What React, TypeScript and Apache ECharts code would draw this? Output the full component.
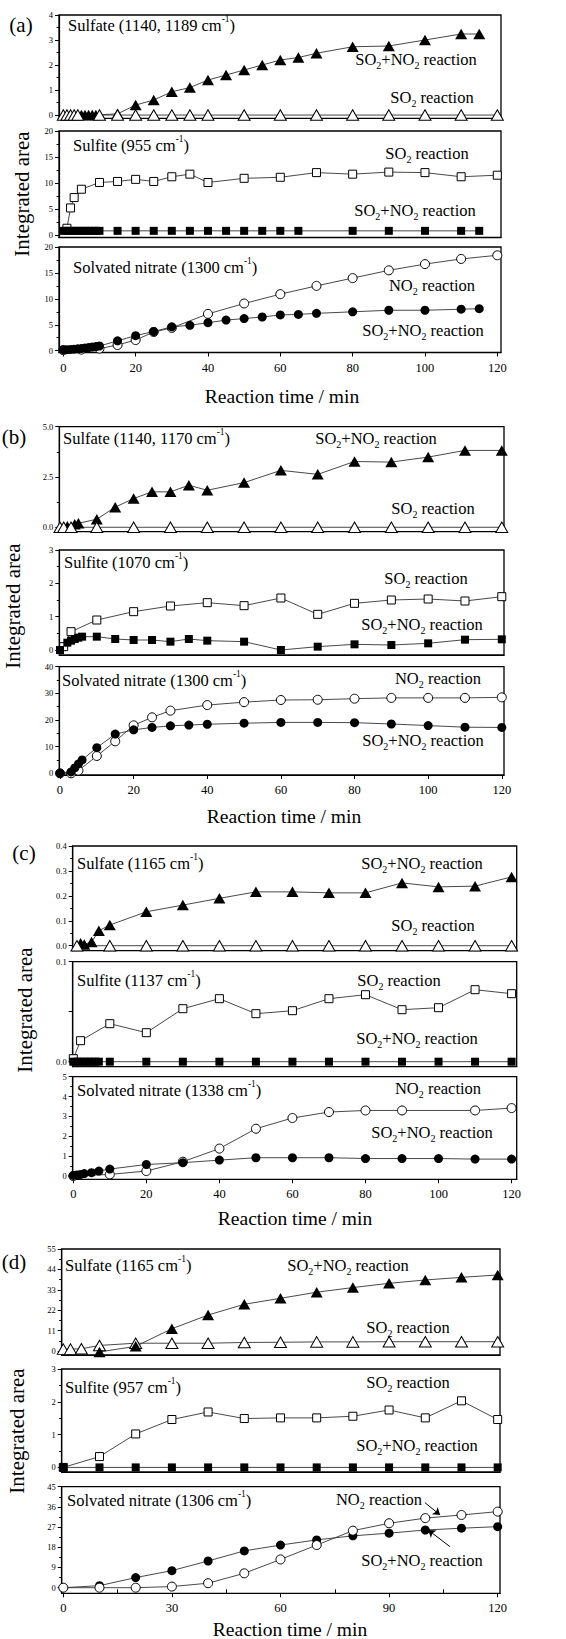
import { useEffect, useRef } from 'react';
import * as echarts from 'echarts';

const FONT = "'Liberation Serif', 'Times New Roman', serif";

// ---------- Panel (a) ----------
const aSulfateSO2T = [0, 1, 2, 3, 4, 10, 15, 20, 25, 30, 35, 40, 50, 60, 70, 80, 90, 100, 110, 120];
const aSulfateSO2V = [0, 0, 0, 0, 0, 0, 0, 0, 0, 0, 0, 0, 0, 0, 0, 0, 0, 0, 0, 0];
const aSulfateMixT = [5, 6, 7, 8, 9, 15, 20, 25, 30, 35, 40, 45, 50, 55, 60, 65, 70, 80, 90, 100, 110, 115];
const aSulfateMixV = [0, 0, 0, 0, 0, 0.05, 0.4, 0.6, 0.93, 1.1, 1.4, 1.6, 1.8, 2.0, 2.2, 2.3, 2.47, 2.73, 2.76, 3.0, 3.24, 3.24];

const aSulfiteSO2T = [1, 2, 3, 5, 10, 15, 20, 25, 30, 35, 40, 50, 60, 70, 80, 90, 100, 110, 120];
const aSulfiteSO2V = [1.3, 5.2, 7.2, 8.8, 10.1, 10.3, 10.7, 10.3, 11.2, 11.7, 10.1, 10.9, 11.1, 12.0, 11.7, 12.1, 12.0, 11.2, 11.5];
const aSulfiteMixT = [0, 1, 2, 3, 4, 5, 6, 7, 8, 9, 10, 15, 20, 25, 30, 35, 40, 45, 50, 55, 60, 65, 80, 90, 100, 110, 115];
const aSulfiteMixV = [0.8, 0.8, 0.8, 0.8, 0.8, 0.8, 0.8, 0.8, 0.8, 0.8, 0.8, 0.8, 0.8, 0.8, 0.8, 0.8, 0.8, 0.8, 0.8, 0.8, 0.8, 0.8, 0.8, 0.8, 0.8, 0.8, 0.8];

const aNitrateNO2T = [0, 5, 10, 15, 20, 25, 30, 40, 50, 60, 70, 80, 90, 100, 110, 120];
const aNitrateNO2V = [0.1, 0.2, 0.4, 1.1, 2.05, 3.6, 4.4, 7.1, 9.1, 10.9, 12.5, 14.0, 15.5, 16.7, 17.7, 18.4];
const aNitrateMixT = [0, 1, 2, 3, 4, 5, 6, 7, 8, 9, 10, 15, 20, 25, 30, 35, 40, 45, 50, 55, 60, 65, 70, 80, 90, 100, 110, 115];
const aNitrateMixV = [0.2, 0.2, 0.25, 0.3, 0.35, 0.4, 0.5, 0.6, 0.7, 0.8, 0.9, 1.9, 2.9, 3.7, 4.6, 4.9, 5.4, 5.9, 6.2, 6.5, 6.9, 7.0, 7.2, 7.5, 7.8, 7.8, 8.0, 8.1];

// ---------- Panel (b) ----------
const bSulfateSO2T = [0, 1, 3, 10, 20, 30, 40, 50, 60, 70, 80, 90, 100, 110, 120];
const bSulfateSO2V = [0, 0, 0, 0, 0, 0, 0, 0, 0, 0, 0, 0, 0, 0, 0];
const bSulfateMixT = [2, 4, 5, 10, 15, 20, 25, 30, 35, 40, 50, 60, 70, 80, 90, 100, 110, 120];
const bSulfateMixV = [0.05, 0.15, 0.2, 0.4, 1.0, 1.43, 1.76, 1.76, 2.09, 1.84, 2.22, 2.83, 2.63, 3.27, 3.24, 3.49, 3.82, 3.82];

const bSulfiteSO2T = [1, 3, 10, 20, 30, 40, 50, 60, 70, 80, 90, 100, 110, 120];
const bSulfiteSO2V = [0.1, 0.55, 0.9, 1.15, 1.32, 1.42, 1.33, 1.56, 1.07, 1.4, 1.5, 1.53, 1.47, 1.6];
const bSulfiteMixT = [0, 2, 3, 4, 5, 6, 10, 15, 20, 25, 30, 35, 40, 50, 60, 70, 80, 90, 100, 110, 120];
const bSulfiteMixV = [0, 0.22, 0.28, 0.33, 0.37, 0.4, 0.4, 0.33, 0.3, 0.3, 0.25, 0.33, 0.28, 0.25, 0.0, 0.1, 0.17, 0.15, 0.2, 0.31, 0.32];

const bNitrateNO2T = [0, 3, 5, 10, 15, 20, 25, 30, 40, 50, 60, 70, 80, 90, 100, 110, 120];
const bNitrateNO2V = [0, 0, 1, 6.5, 12, 18, 21, 23.5, 25.6, 26.7, 27.5, 27.6, 28, 28.3, 28.3, 28.3, 28.5];
const bNitrateMixT = [0, 3, 4, 5, 6, 10, 15, 20, 25, 30, 35, 40, 50, 60, 70, 80, 90, 100, 110, 120];
const bNitrateMixV = [0, 0.5, 2, 3.5, 5, 9.6, 14.7, 16.3, 17.2, 17.8, 18.1, 18.4, 18.8, 19.1, 19.1, 19.0, 18.5, 17.9, 17.3, 17.2];

// ---------- Panel (c) ----------
const cSulfateSO2T = [1, 10, 20, 30, 40, 50, 60, 70, 80, 90, 100, 110, 120];
const cSulfateSO2V = [0, 0, 0, 0, 0, 0, 0, 0, 0, 0, 0, 0, 0];
const cSulfateMixT = [2, 3, 5, 7, 10, 20, 30, 40, 50, 60, 70, 80, 90, 100, 110, 120];
const cSulfateMixV = [0.01, 0.005, 0.015, 0.06, 0.083, 0.136, 0.163, 0.19, 0.216, 0.216, 0.212, 0.212, 0.252, 0.236, 0.239, 0.276];

const cSulfiteSO2T = [0, 2, 10, 20, 30, 40, 50, 60, 70, 80, 90, 100, 110, 120];
const cSulfiteSO2V = [0.003, 0.021, 0.038, 0.029, 0.053, 0.063, 0.048, 0.051, 0.063, 0.067, 0.052, 0.054, 0.072, 0.068];
const cSulfiteMixT = [0, 1, 2, 3, 4, 5, 6, 7, 10, 20, 30, 40, 50, 60, 70, 80, 90, 100, 110, 120];
const cSulfiteMixV = [0, 0, 0, 0, 0, 0, 0, 0, 0, 0, 0, 0, 0, 0, 0, 0, 0, 0, 0, 0];

const cNitrateNO2T = [0, 10, 20, 30, 40, 50, 60, 70, 80, 90, 110, 120];
const cNitrateNO2V = [0, 0.08, 0.25, 0.72, 1.38, 2.38, 2.92, 3.22, 3.3, 3.3, 3.3, 3.42];
const cNitrateMixT = [0, 1, 2, 3, 5, 7, 10, 20, 30, 40, 50, 60, 70, 80, 90, 100, 110, 120];
const cNitrateMixV = [0.03, 0.05, 0.08, 0.12, 0.17, 0.25, 0.35, 0.58, 0.67, 0.8, 0.92, 0.92, 0.92, 0.88, 0.88, 0.88, 0.85, 0.85];

// ---------- Panel (d) ----------
const dSulfateSO2T = [0, 2, 5, 10, 20, 30, 40, 50, 60, 70, 80, 90, 100, 110, 120];
const dSulfateSO2V = [1, 1, 1.2, 3, 4.2, 4.2, 4.2, 4.6, 4.7, 4.9, 4.9, 5, 5, 5, 5];
const dSulfateMixT = [10, 20, 30, 40, 50, 60, 70, 80, 90, 100, 110, 120];
const dSulfateMixV = [-0.5, 2.5, 12, 19.4, 25.2, 28.4, 31.7, 34.2, 36.5, 38.3, 39.7, 41];

const dSulfiteSO2T = [0, 10, 20, 30, 40, 50, 60, 70, 80, 90, 100, 110, 120];
const dSulfiteSO2V = [0, 0.33, 1.02, 1.46, 1.69, 1.49, 1.51, 1.51, 1.56, 1.75, 1.51, 2.03, 1.46];
const dSulfiteMixT = [0, 10, 20, 30, 40, 50, 60, 70, 80, 90, 100, 110, 120];
const dSulfiteMixV = [0, 0, 0, 0, 0, 0, 0, 0, 0, 0, 0, 0, 0];

const dNitrateNO2T = [0, 10, 20, 30, 40, 50, 60, 70, 80, 90, 100, 110, 120];
const dNitrateNO2V = [0, 0, 0, 0.5, 2, 6.4, 12.6, 19, 25.4, 28.7, 31, 32.4, 33.9];
const dNitrateMixT = [0, 10, 20, 30, 40, 50, 60, 70, 80, 90, 100, 110, 120];
const dNitrateMixV = [0, 0.9, 4.5, 7.6, 11.9, 16.4, 19, 21.3, 23.1, 24.3, 25.7, 26.5, 27.2];

const dArrowNO2 = [[99.9, 37.9], [104.1, 32.4]];
const dArrowMix = [[106.8, 18.3], [100.8, 25.7]];

// ---------- Tick values ----------
const xTicks20 = [0, 20, 40, 60, 80, 100, 120];
const xTicks30 = [0, 30, 60, 90, 120];
const xMinor30 = [15, 45, 75, 105];

const yA1 = [0, 1, 2, 3, 4];
const yA1m = [0.5, 1.5, 2.5, 3.5];
const yA2 = [0, 5, 10, 15, 20];
const yA2m = [2.5, 7.5, 12.5, 17.5];
const yB1 = [0, 2.5, 5];
const yB1m = [1.25, 3.75];
const yB2 = [0, 1, 2, 3];
const yB2m = [0.5, 1.5, 2.5];
const yB3 = [0, 10, 20, 30, 40];
const yB3m = [5, 15, 25, 35];
const yC1 = [0, 0.1, 0.2, 0.3, 0.4];
const yC1m = [0.05, 0.15, 0.25, 0.35];
const yC2 = [0, 0.1];
const yC2t = [0, 0.05, 0.1];
const yC3 = [0, 1, 2, 3, 4, 5];
const yC3m = [0.5, 1.5, 2.5, 3.5, 4.5];
const yD1 = [0, 11, 22, 33, 44, 55];
const yD1m = [5.5, 16.5, 27.5, 38.5, 49.5];
const yD2 = [0, 1, 2, 3];
const yD2m = [0.5, 1.5, 2.5];
const yD3 = [0, 9, 18, 27, 36, 45];
const yD3m = [4.5, 13.5, 22.5, 31.5, 40.5];

type S = { t: number[]; v: number[]; sym: string; fill: boolean; arrows?: number[][][] };
type Sub = {
  g: number[]; x: number[]; y: number[];
  yLab: number[]; yTick: number[]; yMinor: number[]; dec: number;
  xLab?: number[]; xMinor?: number[]; series: S[];
};

const XA = [-1.19, 121.02];
const XB = [-0.19, 120.6];
const XC = [-0.16, 121.4];
const XD = [-0.44, 120.64];

const subs: Sub[] = [
  { g: [59, 15, 442, 103.3], x: XA, y: [-0.13, 4], yLab: yA1, yTick: yA1, yMinor: yA1m, dec: 0,
    series: [{ t: aSulfateMixT, v: aSulfateMixV, sym: 'triangle', fill: true }, { t: aSulfateSO2T, v: aSulfateSO2V, sym: 'triangle', fill: false }] },
  { g: [59, 131, 442, 106.5], x: XA, y: [-0.48, 20], yLab: yA2, yTick: yA2, yMinor: yA2m, dec: 0,
    series: [{ t: aSulfiteSO2T, v: aSulfiteSO2V, sym: 'rect', fill: false }, { t: aSulfiteMixT, v: aSulfiteMixV, sym: 'rect', fill: true }] },
  { g: [59, 247, 442, 105.5], x: XA, y: [-0.35, 20], yLab: yA2, yTick: yA2, yMinor: yA2m, dec: 0, xLab: xTicks20,
    series: [{ t: aNitrateNO2T, v: aNitrateNO2V, sym: 'circle', fill: false }, { t: aNitrateMixT, v: aNitrateMixV, sym: 'circle', fill: true }] },

  { g: [59.3, 426.7, 444.7, 105], x: XB, y: [-0.22, 5], yLab: yB1, yTick: yB1, yMinor: yB1m, dec: 1,
    series: [{ t: bSulfateMixT, v: bSulfateMixV, sym: 'triangle', fill: true }, { t: bSulfateSO2T, v: bSulfateSO2V, sym: 'triangle', fill: false }] },
  { g: [59.3, 550, 444.7, 105], x: XB, y: [-0.15, 3], yLab: yB2, yTick: yB2, yMinor: yB2m, dec: 0,
    series: [{ t: bSulfiteSO2T, v: bSulfiteSO2V, sym: 'rect', fill: false }, { t: bSulfiteMixT, v: bSulfiteMixV, sym: 'rect', fill: true }] },
  { g: [59.3, 666.7, 444.7, 108.3], x: XB, y: [-0.64, 40], yLab: yB3, yTick: yB3, yMinor: yB3m, dec: 0, xLab: xTicks20,
    series: [{ t: bNitrateNO2T, v: bNitrateNO2V, sym: 'circle', fill: false }, { t: bNitrateMixT, v: bNitrateMixV, sym: 'circle', fill: true }] },

  { g: [72.7, 846, 444, 104.7], x: XC, y: [-0.02, 0.4], yLab: yC1, yTick: yC1, yMinor: yC1m, dec: 1,
    series: [{ t: cSulfateMixT, v: cSulfateMixV, sym: 'triangle', fill: true }, { t: cSulfateSO2T, v: cSulfateSO2V, sym: 'triangle', fill: false }] },
  { g: [72.7, 961.7, 444, 105], x: XC, y: [-0.005, 0.1], yLab: yC2, yTick: yC2t, yMinor: [], dec: 1,
    series: [{ t: cSulfiteSO2T, v: cSulfiteSO2V, sym: 'rect', fill: false }, { t: cSulfiteMixT, v: cSulfiteMixV, sym: 'rect', fill: true }] },
  { g: [72.7, 1076.7, 444, 102.6], x: XC, y: [-0.166, 5], yLab: yC3, yTick: yC3, yMinor: yC3m, dec: 0, xLab: xTicks20,
    series: [{ t: cNitrateNO2T, v: cNitrateNO2V, sym: 'circle', fill: false }, { t: cNitrateMixT, v: cNitrateMixV, sym: 'circle', fill: true }] },

  { g: [61.7, 1249, 438.3, 106], x: XD, y: [-2.16, 55], yLab: yD1, yTick: yD1, yMinor: yD1m, dec: 0,
    series: [{ t: dSulfateSO2T, v: dSulfateSO2V, sym: 'triangle', fill: false }, { t: dSulfateMixT, v: dSulfateMixV, sym: 'triangle', fill: true }] },
  { g: [61.7, 1369, 438.3, 103], x: XD, y: [-0.14, 3], yLab: yD2, yTick: yD2, yMinor: yD2m, dec: 0,
    series: [{ t: dSulfiteSO2T, v: dSulfiteSO2V, sym: 'rect', fill: false }, { t: dSulfiteMixT, v: dSulfiteMixV, sym: 'rect', fill: true }] },
  { g: [61.7, 1486.7, 438.3, 106.6], x: XD, y: [-2.5, 45], yLab: yD3, yTick: yD3, yMinor: yD3m, dec: 0, xLab: xTicks30, xMinor: xMinor30,
    series: [{ t: dNitrateMixT, v: dNitrateMixV, sym: 'circle', fill: true }, { t: dNitrateNO2T, v: dNitrateNO2V, sym: 'circle', fill: false, arrows: [dArrowNO2, dArrowMix] }] },
];

const MIX = '{n|SO}{s|2}{n|+NO}{s|2}{n| reaction}';
const SO2R = '{n|SO}{s|2}{n| reaction}';
const NO2R = '{n|NO}{s|2}{n| reaction}';
const band = (name: string, wn: string) => `{n|${name} (${wn} cm}{p|-1}{n|)}`;

const base = { fontFamily: FONT, fontWeight: 'normal', fontStyle: 'normal', color: '#000' };
const rich = {
  n: { ...base, fontSize: 16.5, lineHeight: 22 },
  s: { ...base, fontSize: 10, lineHeight: 6, verticalAlign: 'bottom' },
  p: { ...base, fontSize: 9.5, lineHeight: 14, verticalAlign: 'top' },
  big: { ...base, fontSize: 21, lineHeight: 24 },
  ttl: { ...base, fontSize: 19.5, lineHeight: 24 },
  tick: { ...base, fontSize: 8.5, lineHeight: 10 },
  xt: { ...base, fontSize: 12.5, lineHeight: 14 },
};

type T = { x: number; y: number; text: string; align?: string; rot?: boolean };
const PL = (s: string) => `{big|${s}}`;
const TT = '{ttl|Reaction time / min}';
const IA = '{big|Integrated area}';

const texts: T[] = [
  // (a)
  { x: 21, y: 25, text: PL('(a)') },
  { x: 68, y: 25, text: band('Sulfate', '1140, 1189'), align: 'left' },
  { x: 416, y: 59, text: MIX },
  { x: 432, y: 97, text: SO2R },
  { x: 73, y: 145, text: band('Sulfite', '955'), align: 'left' },
  { x: 427, y: 153, text: SO2R },
  { x: 415, y: 210, text: MIX },
  { x: 73, y: 267, text: band('Solvated nitrate', '1300'), align: 'left' },
  { x: 432, y: 285, text: NO2R },
  { x: 423, y: 330, text: MIX },
  { x: 22, y: 194, text: IA, rot: true },
  { x: 282, y: 396, text: TT },
  // (b)
  { x: 14, y: 437, text: PL('(b)') },
  { x: 63, y: 438, text: band('Sulfate', '1140, 1170'), align: 'left' },
  { x: 376, y: 438, text: MIX },
  { x: 433, y: 508, text: SO2R },
  { x: 64, y: 562, text: band('Sulfite', '1070'), align: 'left' },
  { x: 426, y: 578, text: SO2R },
  { x: 422, y: 624, text: MIX },
  { x: 62, y: 680, text: band('Solvated nitrate', '1300'), align: 'left' },
  { x: 438, y: 678, text: NO2R },
  { x: 423, y: 740, text: MIX },
  { x: 13, y: 606, text: IA, rot: true },
  { x: 284, y: 816, text: TT },
  // (c)
  { x: 24, y: 853, text: PL('(c)') },
  { x: 77, y: 863, text: band('Sulfate', '1165'), align: 'left' },
  { x: 422, y: 863, text: MIX },
  { x: 433, y: 925, text: SO2R },
  { x: 77, y: 980, text: band('Sulfite', '1137'), align: 'left' },
  { x: 399, y: 980, text: SO2R },
  { x: 417, y: 1038, text: MIX },
  { x: 77, y: 1090, text: band('Solvated nitrate', '1338'), align: 'left' },
  { x: 438, y: 1088, text: NO2R },
  { x: 432, y: 1132, text: MIX },
  { x: 25, y: 1010, text: IA, rot: true },
  { x: 295, y: 1218, text: TT },
  // (d)
  { x: 14, y: 1262, text: PL('(d)') },
  { x: 65, y: 1265, text: band('Sulfate', '1165'), align: 'left' },
  { x: 348, y: 1265, text: MIX },
  { x: 408, y: 1327, text: SO2R },
  { x: 65, y: 1387, text: band('Sulfite', '957'), align: 'left' },
  { x: 408, y: 1382, text: SO2R },
  { x: 417, y: 1445, text: MIX },
  { x: 67, y: 1500, text: band('Solvated nitrate', '1306'), align: 'left' },
  { x: 379, y: 1499, text: NO2R },
  { x: 422, y: 1560, text: MIX },
  { x: 17, y: 1431, text: IA, rot: true },
  { x: 290, y: 1629, text: TT },
];

function buildOption() {
  const grid: any[] = [];
  const xAxis: any[] = [];
  const yAxis: any[] = [];
  const series: any[] = [];
  const axisLineStyle = { color: '#000', width: 1.2 };

  subs.forEach((sp, i) => {
    grid.push({
      left: sp.g[0], top: sp.g[1], width: sp.g[2], height: sp.g[3],
      show: true, borderColor: '#000', borderWidth: 1.3, backgroundColor: 'transparent',
    });
    const bottom = !!sp.xLab;
    const xi = xAxis.length;
    xAxis.push({
      gridIndex: i, type: 'value', min: sp.x[0], max: sp.x[1],
      axisLine: { show: true, onZero: false, lineStyle: axisLineStyle },
      axisTick: { show: bottom, length: 4, inside: false, customValues: sp.xLab || [], lineStyle: { color: '#000', width: 1 } },
      axisLabel: {
        show: bottom, customValues: sp.xLab || [], margin: 8, fontFamily: FONT, fontSize: 12.5, color: '#000',
        formatter: (v: number) => `{xt|${v}}`, rich,
      },
      splitLine: { show: false },
    });
    if (sp.xMinor) {
      xAxis.push({
        gridIndex: i, type: 'value', min: sp.x[0], max: sp.x[1], position: 'bottom',
        axisLine: { show: false, onZero: false },
        axisTick: { show: true, length: 4, inside: true, customValues: sp.xMinor, lineStyle: { color: '#000', width: 1 } },
        axisLabel: { show: false },
        splitLine: { show: false },
      });
    }
    const yi = yAxis.length;
    yAxis.push({
      gridIndex: i, type: 'value', min: sp.y[0], max: sp.y[1], position: 'left',
      axisLine: { show: true, onZero: false, lineStyle: axisLineStyle },
      axisTick: { show: true, length: 4, inside: false, customValues: sp.yTick, lineStyle: { color: '#000', width: 1 } },
      axisLabel: {
        show: true, customValues: sp.yLab, margin: 6, fontFamily: FONT, fontSize: 8.5, color: '#000',
        formatter: (v: number) => `{tick|${v.toFixed(sp.dec)}}`, rich,
      },
      splitLine: { show: false },
    });
    if (sp.yMinor.length) {
      yAxis.push({
        gridIndex: i, type: 'value', min: sp.y[0], max: sp.y[1], position: 'left',
        axisLine: { show: false, onZero: false },
        axisTick: { show: true, length: 2.5, inside: false, customValues: sp.yMinor, lineStyle: { color: '#000', width: 1 } },
        axisLabel: { show: false },
        splitLine: { show: false },
      });
    }
    sp.series.forEach((s) => {
      const size = s.sym === 'triangle' ? [12, 10.5] : s.sym === 'rect' ? 8 : 9;
      const ser: any = {
        type: 'line', xAxisIndex: xi, yAxisIndex: yi,
        data: s.t.map((t, k) => [t, s.v[k]]),
        symbol: s.sym, symbolSize: size, showSymbol: true, showAllSymbol: true,
        lineStyle: { color: '#333', width: 0.9 },
        itemStyle: { color: s.fill ? '#000' : '#fff', borderColor: '#000', borderWidth: s.fill ? 0 : 1 },
        emphasis: { disabled: true }, silent: true,
      };
      if (s.arrows) {
        ser.markLine = {
          silent: true, symbol: ['none', 'arrow'], symbolSize: 7, animation: false,
          lineStyle: { color: '#000', width: 1, type: 'solid' },
          label: { show: false },
          data: s.arrows.map((a) => [{ coord: a[0] }, { coord: a[1] }]),
        };
      }
      series.push(ser);
    });
  });

  const graphic = texts.map((t) => ({
    type: 'text', x: t.x, y: t.y, rotation: t.rot ? Math.PI / 2 : 0,
    silent: true,
    style: {
      text: t.text, rich,
      fontFamily: FONT, fontSize: 16.5, fontWeight: 'normal',
      align: t.align || 'center', verticalAlign: 'middle',
      textAlign: t.align || 'center', textVerticalAlign: 'middle',
      fill: '#000',
    },
  }));

  return {
    animation: false, backgroundColor: '#fff',
    textStyle: { fontFamily: FONT, fontWeight: 'normal' },
    grid, xAxis, yAxis, series, graphic,
  };
}

export default function App() {
  const ref = useRef<HTMLDivElement>(null);
  useEffect(() => {
    const chart = echarts.init(ref.current!, null, { renderer: 'svg' });
    chart.setOption(buildOption() as any);
    return () => chart.dispose();
  }, []);
  return <div ref={ref} style={{ position: 'absolute', left: 0, top: 0, width: 566, height: 1639, background: '#fff' }} />;
}
